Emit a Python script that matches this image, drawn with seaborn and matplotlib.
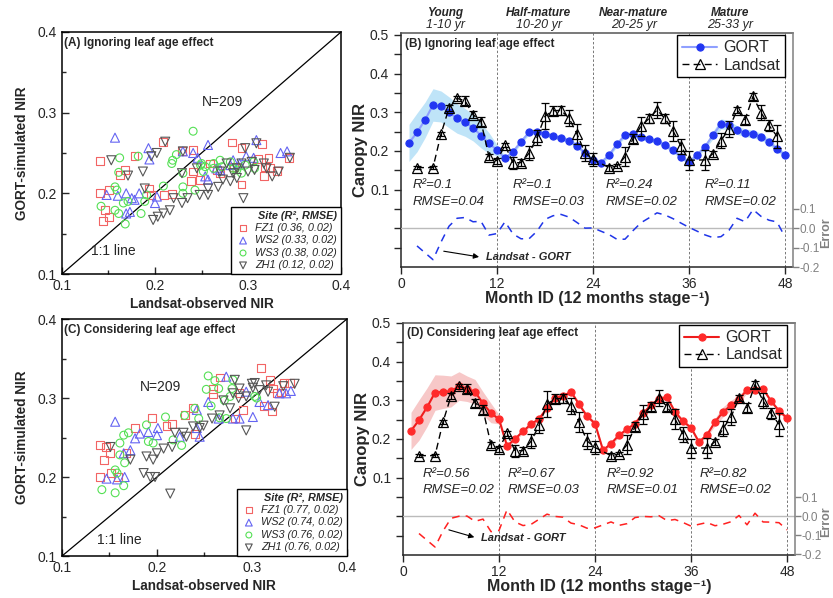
import matplotlib
matplotlib.use("Agg")
import pandas as pd
import matplotlib.pyplot as plt
import seaborn as sns

# --- scatter data: Landsat-observed NIR (obs) vs GORT-simulated NIR (sim) ---
# (A) ignoring leaf age effect
fz1_a_obs = [0.141, 0.141, 0.144, 0.146, 0.151, 0.151, 0.162, 0.168, 0.178, 0.194, 0.196, 0.209, 0.210, 0.218,
             0.229, 0.241, 0.241, 0.239, 0.248, 0.259, 0.267, 0.283, 0.293, 0.293, 0.311, 0.315, 0.318, 0.322,
             0.324, 0.331, 0.344, 0.317, 0.285, 0.270]
fz1_a_sim = [0.240, 0.200, 0.166, 0.179, 0.171, 0.204, 0.223, 0.229, 0.246, 0.206, 0.198, 0.264, 0.198, 0.199,
             0.252, 0.254, 0.227, 0.215, 0.217, 0.237, 0.229, 0.263, 0.256, 0.211, 0.243, 0.261, 0.233, 0.244,
             0.231, 0.228, 0.244, 0.221, 0.233, 0.225]
ws2_a_obs = [0.157, 0.148, 0.160, 0.169, 0.169, 0.173, 0.178, 0.183, 0.193, 0.194, 0.200, 0.202, 0.230, 0.241,
             0.246, 0.257, 0.254, 0.257, 0.270, 0.281, 0.291, 0.309, 0.306, 0.335, 0.342, 0.284, 0.266, 0.298,
             0.175]
ws2_a_sim = [0.269, 0.198, 0.197, 0.200, 0.175, 0.177, 0.192, 0.200, 0.256, 0.242, 0.188, 0.196, 0.252, 0.250,
             0.244, 0.260, 0.221, 0.217, 0.229, 0.235, 0.237, 0.266, 0.244, 0.250, 0.252, 0.241, 0.231, 0.246,
             0.194]
ws3_a_obs = [0.142, 0.157, 0.159, 0.162, 0.161, 0.157, 0.161, 0.166, 0.168, 0.171, 0.182, 0.185, 0.189, 0.191,
             0.209, 0.218, 0.223, 0.230, 0.230, 0.241, 0.243, 0.252, 0.254, 0.263, 0.270, 0.272, 0.281, 0.288,
             0.297, 0.306, 0.307, 0.263, 0.249, 0.230, 0.219, 0.284, 0.293, 0.250]
ws3_a_sim = [0.184, 0.208, 0.204, 0.244, 0.226, 0.179, 0.175, 0.188, 0.162, 0.190, 0.246, 0.175, 0.190, 0.198,
             0.209, 0.237, 0.248, 0.208, 0.200, 0.277, 0.204, 0.227, 0.233, 0.231, 0.241, 0.233, 0.239, 0.229,
             0.235, 0.239, 0.231, 0.237, 0.235, 0.225, 0.241, 0.231, 0.225, 0.237]
zh1_a_obs = [0.153, 0.171, 0.187, 0.189, 0.196, 0.202, 0.198, 0.203, 0.209, 0.216, 0.211, 0.220, 0.229, 0.229,
             0.230, 0.235, 0.245, 0.248, 0.257, 0.257, 0.268, 0.270, 0.273, 0.277, 0.281, 0.284, 0.288, 0.293,
             0.295, 0.297, 0.300, 0.304, 0.309, 0.317, 0.320, 0.326, 0.333, 0.345, 0.288, 0.307]
zh1_a_sim = [0.241, 0.222, 0.227, 0.206, 0.246, 0.250, 0.167, 0.171, 0.175, 0.179, 0.264, 0.194, 0.225, 0.188,
             0.252, 0.194, 0.231, 0.198, 0.198, 0.206, 0.208, 0.227, 0.217, 0.237, 0.215, 0.225, 0.219, 0.237,
             0.194, 0.256, 0.227, 0.239, 0.262, 0.237, 0.231, 0.221, 0.227, 0.244, 0.231, 0.229]

# (C) considering leaf age effect
fz1_c_obs = [0.140, 0.140, 0.144, 0.146, 0.151, 0.152, 0.159, 0.168, 0.177, 0.195, 0.210, 0.216, 0.238, 0.240,
             0.259, 0.259, 0.282, 0.287, 0.291, 0.310, 0.313, 0.321, 0.319, 0.322, 0.326, 0.331, 0.334, 0.340,
             0.266, 0.230]
fz1_c_sim = [0.240, 0.200, 0.222, 0.238, 0.230, 0.205, 0.200, 0.230, 0.262, 0.275, 0.265, 0.267, 0.287, 0.255,
             0.311, 0.305, 0.274, 0.306, 0.285, 0.338, 0.290, 0.283, 0.323, 0.312, 0.306, 0.307, 0.319, 0.319,
             0.326, 0.278]
ws2_c_obs = [0.156, 0.147, 0.158, 0.166, 0.165, 0.172, 0.177, 0.182, 0.191, 0.200, 0.201, 0.224, 0.242, 0.242,
             0.245, 0.254, 0.265, 0.273, 0.280, 0.287, 0.301, 0.308, 0.317, 0.329, 0.336, 0.341, 0.294]
ws2_c_sim = [0.270, 0.198, 0.197, 0.200, 0.230, 0.234, 0.249, 0.255, 0.257, 0.253, 0.262, 0.251, 0.262, 0.285,
             0.251, 0.295, 0.274, 0.327, 0.274, 0.274, 0.276, 0.295, 0.291, 0.306, 0.306, 0.309, 0.308]
ws3_c_obs = [0.142, 0.156, 0.156, 0.158, 0.161, 0.161, 0.165, 0.166, 0.165, 0.170, 0.189, 0.191, 0.196, 0.209,
             0.217, 0.226, 0.229, 0.240, 0.244, 0.252, 0.254, 0.257, 0.261, 0.266, 0.271, 0.273, 0.280, 0.277,
             0.303, 0.305, 0.265, 0.279]
ws3_c_sim = [0.184, 0.180, 0.209, 0.205, 0.243, 0.228, 0.189, 0.218, 0.253, 0.256, 0.266, 0.245, 0.243, 0.276,
             0.247, 0.240, 0.278, 0.287, 0.274, 0.311, 0.328, 0.290, 0.322, 0.275, 0.297, 0.274, 0.323, 0.302,
             0.302, 0.300, 0.312, 0.312]
zh1_c_obs = [0.151, 0.172, 0.186, 0.193, 0.198, 0.189, 0.196, 0.200, 0.207, 0.214, 0.216, 0.219, 0.228, 0.231,
             0.238, 0.245, 0.249, 0.258, 0.266, 0.270, 0.277, 0.280, 0.282, 0.287, 0.294, 0.294, 0.301, 0.303,
             0.308, 0.315, 0.317, 0.324, 0.333, 0.345, 0.300, 0.286]
zh1_c_sim = [0.238, 0.222, 0.205, 0.200, 0.200, 0.226, 0.222, 0.230, 0.236, 0.179, 0.238, 0.256, 0.256, 0.251,
             0.264, 0.262, 0.265, 0.274, 0.278, 0.297, 0.287, 0.306, 0.323, 0.312, 0.302, 0.259, 0.313, 0.319,
             0.310, 0.316, 0.308, 0.289, 0.315, 0.318, 0.318, 0.300]

site_names = ["FZ1", "WS2", "WS3", "ZH1"]
site_colors = ["#f26464", "#6464f2", "#55e055", "#555555"]
site_markers = ["s", "^", "o", "v"]
stats_a = ["(0.36, 0.02)", "(0.33, 0.02)", "(0.38, 0.02)", "(0.12, 0.02)"]
stats_c = ["(0.77, 0.02)", "(0.74, 0.02)", "(0.76, 0.02)", "(0.76, 0.02)"]
one_to_one = [0.1, 0.4]

# --- monthly series ---
months = list(range(1, 49))
gort_b = [0.221, 0.248, 0.280, 0.319, 0.315, 0.300, 0.284, 0.274, 0.260, 0.240, 0.220, 0.202,
          0.181, 0.198, 0.224, 0.248, 0.250, 0.244, 0.239, 0.233, 0.227, 0.214, 0.194, 0.176,
          0.170, 0.189, 0.218, 0.241, 0.244, 0.235, 0.230, 0.226, 0.215, 0.202, 0.185, 0.171,
          0.190, 0.211, 0.241, 0.270, 0.267, 0.254, 0.247, 0.244, 0.237, 0.224, 0.205, 0.190]
band_b = [0.048, 0.050, 0.046, 0.042, 0.040, 0.040, 0.038, 0.036, 0.034, 0.032, 0.027, 0.014,
          0.006, 0.006, 0.006, 0.006, 0.006, 0.006, 0.006, 0.006, 0.006, 0.006, 0.006, 0.006,
          0.006, 0.006, 0.006, 0.006, 0.006, 0.006, 0.006, 0.006, 0.006, 0.006, 0.006, 0.006,
          0.006, 0.006, 0.010, 0.013, 0.012, 0.011, 0.010, 0.010, 0.009, 0.008, 0.007, 0.006]
gort_d = [0.221, 0.249, 0.282, 0.320, 0.322, 0.323, 0.337, 0.330, 0.322, 0.292, 0.267, 0.251,
          0.182, 0.200, 0.220, 0.238, 0.252, 0.280, 0.306, 0.311, 0.322, 0.290, 0.259, 0.240,
          0.171, 0.188, 0.210, 0.225, 0.240, 0.266, 0.288, 0.304, 0.308, 0.270, 0.246, 0.229,
          0.192, 0.211, 0.244, 0.270, 0.287, 0.303, 0.327, 0.326, 0.330, 0.298, 0.273, 0.254]
band_d = [0.048, 0.052, 0.050, 0.046, 0.043, 0.040, 0.037, 0.033, 0.032, 0.030, 0.025, 0.012,
          0.005, 0.005, 0.005, 0.005, 0.005, 0.005, 0.005, 0.005, 0.005, 0.005, 0.005, 0.005,
          0.005, 0.005, 0.005, 0.005, 0.005, 0.005, 0.005, 0.005, 0.005, 0.005, 0.005, 0.005,
          0.005, 0.005, 0.010, 0.013, 0.013, 0.010, 0.008, 0.006, 0.005, 0.005, 0.005, 0.005]

ls_months = [2, 4, 5, 6, 7, 8, 9, 10, 11, 12, 13, 14, 15, 16, 17, 18, 19, 20, 21, 22, 23, 24,
             26, 27, 28, 29, 30, 31, 32, 33, 34, 35, 36,
             38, 39, 40, 41, 42, 43, 44, 45, 46, 47]
ls_nir = [0.157, 0.157, 0.244, 0.311, 0.336, 0.330, 0.294, 0.276, 0.185, 0.175, 0.215, 0.169, 0.170, 0.194,
          0.235, 0.290, 0.304, 0.305, 0.285, 0.244, 0.195, 0.178,
          0.157, 0.161, 0.185, 0.232, 0.264, 0.284, 0.306, 0.284, 0.252, 0.212, 0.176,
          0.177, 0.193, 0.227, 0.257, 0.306, 0.281, 0.341, 0.299, 0.266, 0.238]
ls_sd = [0.004, 0.004, 0.006, 0.008, 0.006, 0.012, 0.010, 0.012, 0.008, 0.008, 0.006, 0.015, 0.010, 0.018,
         0.020, 0.033, 0.012, 0.012, 0.020, 0.025, 0.020, 0.018,
         0.008, 0.006, 0.025, 0.012, 0.025, 0.012, 0.020, 0.012, 0.025, 0.020, 0.025,
         0.025, 0.008, 0.020, 0.020, 0.008, 0.012, 0.010, 0.020, 0.015, 0.030]

# Landsat - GORT (right axis)
err_months = ls_months + [48]
err_b = [-0.091, -0.162, -0.071, 0.011, 0.052, 0.056, 0.034, 0.036, -0.035, -0.027, 0.034, -0.029, -0.054,
         -0.054, -0.015, 0.046, 0.065, 0.072, 0.058, 0.030, 0.001, 0.002,
         -0.032, -0.057, -0.056, -0.012, 0.029, 0.054, 0.080, 0.069, 0.050, 0.027, 0.005,
         -0.034, -0.048, -0.043, -0.010, 0.052, 0.034, 0.097, 0.062, 0.042, 0.033, -0.045]
err_d = [-0.092, -0.163, -0.079, -0.012, -0.001, 0.000, -0.028, -0.016, -0.082, -0.076, 0.033, -0.031, -0.050,
         -0.044, -0.017, 0.010, -0.002, -0.006, -0.037, -0.046, -0.064, -0.062,
         -0.031, -0.049, -0.040, -0.008, -0.002, -0.004, 0.002, -0.024, -0.018, -0.034, -0.053,
         -0.034, -0.051, -0.043, -0.030, 0.003, -0.046, 0.015, -0.031, -0.032, -0.035, -0.073]

stage_edges = [12, 24, 36, 48]
stage_names = ["Young", "Half-mature", "Near-mature", "Mature"]
stage_years = ["1-10 yr", "10-20 yr", "20-25 yr", "25-33 yr"]
stage_centers = [5.5, 17.2, 29.1, 41.1]

r2_b = ["0.1", "0.1", "0.24", "0.11"]
rmse_b = ["0.04", "0.03", "0.02", "0.02"]
r2_d = ["0.56", "0.67", "0.92", "0.82"]
rmse_d = ["0.02", "0.03", "0.01", "0.02"]

sns.set_style("ticks")
plt.rcParams["font.family"] = ["Liberation Sans", "DejaVu Sans"]
plt.rcParams["axes.unicode_minus"] = False
plt.rcParams["axes.linewidth"] = 1.1

fig = plt.figure(figsize=(8.33, 5.98), dpi=100)
ax_a = fig.add_axes([0.0744, 0.5418, 0.335, 0.4047])
ax_b = fig.add_axes([0.4814, 0.5535, 0.4706, 0.3913])
ax_c = fig.add_axes([0.0744, 0.0702, 0.342, 0.3963])
ax_d = fig.add_axes([0.4838, 0.0719, 0.4706, 0.388])


def scatter_panel(ax, obs_lists, sim_lists, stats, title, n_pos, line_pos):
    for site, col, mk, st, xo, ys in zip(site_names, site_colors, site_markers, stats, obs_lists, sim_lists):
        df = pd.DataFrame({"obs": xo, "sim": ys})
        size = 32 if mk in ("s", "o") else 42
        sns.scatterplot(data=df, x="obs", y="sim", ax=ax, marker=mk, s=size, facecolor="none",
                        edgecolor=col, linewidth=0.8, label=f"{site} {st}", zorder=3)
    sns.lineplot(x=one_to_one, y=one_to_one, ax=ax, color="black", lw=0.9, legend=False, zorder=2)
    ax.set_xlim(0.1, 0.4)
    ax.set_ylim(0.1, 0.4)
    ax.set_xticks([0.1, 0.2, 0.3, 0.4])
    ax.set_yticks([0.1, 0.2, 0.3, 0.4])
    ax.set_xticks([0.15, 0.25, 0.35], minor=True)
    ax.set_yticks([0.15, 0.25, 0.35], minor=True)
    ax.tick_params(which="both", direction="in", labelsize=10, width=1)
    ax.tick_params(which="major", length=5)
    ax.tick_params(which="minor", length=3)
    ax.set_xlabel("Landsat-observed NIR", fontsize=9.8, fontweight="bold", labelpad=3)
    ax.set_ylabel("GORT-simulated NIR", fontsize=9.8, fontweight="bold", labelpad=6)
    ax.text(0.006, 0.955, title, transform=ax.transAxes, fontsize=8.5, fontweight="bold", va="center")
    ax.text(n_pos[0], n_pos[1], "N=209", fontsize=10, ha="center", va="center")
    ax.text(line_pos[0], line_pos[1], "1:1 line", fontsize=10, ha="center", va="center")
    leg = ax.legend(loc="lower right", borderaxespad=0, fancybox=False, framealpha=1,
                    edgecolor="black", title="Site (R², RMSE)",
                    title_fontproperties={"weight": "bold", "style": "italic", "size": 7.8},
                    prop={"style": "italic", "size": 7.8}, handletextpad=0.4, labelspacing=0.22,
                    borderpad=0.35, handlelength=1.5, markerscale=0.75, alignment="right")
    leg.get_frame().set_linewidth(1.0)
    for s in ax.spines.values():
        s.set_color("black")


def series_panel(ax, gort, band, err, dot_col, line_col, fill_col, err_col, title, r2s, rmses, txt_x,
                 err_ylim, ylim, lab_pos, arrow_from, arrow_to, err_lab_x):
    lo = [g - b for g, b in zip(gort, band)]
    hi = [g + b for g, b in zip(gort, band)]
    ax.fill_between(months, lo, hi, color=fill_col, lw=0, zorder=1)
    for edge in stage_edges:
        ax.axvline(edge, color="#777777", ls=(0, (2.5, 2)), lw=0.7, zorder=0)
    sns.lineplot(x=months, y=gort, ax=ax, color=line_col, lw=1.5, marker="o", ms=5.2,
                 mfc=dot_col, mec=dot_col, label="GORT", zorder=3)
    ax.errorbar(ls_months, ls_nir, yerr=ls_sd, fmt="none", ecolor="black", elinewidth=0.9,
                capsize=2.6, capthick=0.9, zorder=4)
    sns.lineplot(x=ls_months, y=ls_nir, ax=ax, color="black", lw=1.0, ls=(0, (5, 3)), marker="^",
                 ms=7, mfc="none", mec="black", mew=0.9, label="Landsat", zorder=5)
    ax.set_xlim(0, 49)
    ax.set_ylim(*ylim)
    ax.set_xticks([0, 12, 24, 36, 48])
    yt = [-0.05, 0.0, 0.05, 0.1, 0.15, 0.2, 0.25, 0.3, 0.35, 0.4, 0.45, 0.5]
    ax.set_yticks(yt)
    ax.set_yticklabels([f"{v:.1f}" if v >= 0.1 and abs(v * 10 - round(v * 10)) < 1e-6 else "" for v in yt])
    ax.tick_params(direction="out", labelsize=10, length=5, width=1)
    ax.tick_params(axis="x", pad=2)
    ax.set_xlabel("Month ID (12 months stage⁻¹)", fontsize=11.5, fontweight="bold", labelpad=0)
    ax.set_ylabel("Canopy NIR", fontsize=12, fontweight="bold", labelpad=1)
    ax.spines["right"].set_visible(False)
    ax.spines["top"].set_color("#555555")
    ax.text(0.01, 0.955, title, transform=ax.transAxes, fontsize=8.5, fontweight="bold", va="center")
    for x0, r2, rm in zip(txt_x, r2s, rmses):
        ax.text(x0, lab_pos[0], f"R²={r2}", fontsize=9.5, style="italic", va="center")
        ax.text(x0, lab_pos[1], f"RMSE={rm}", fontsize=9.5, style="italic", va="center")
    ax.annotate("", xy=arrow_to, xytext=arrow_from,
                arrowprops=dict(arrowstyle="-|>", color="black", lw=0.8, mutation_scale=8))
    ax.text(arrow_to[0] + 0.5, arrow_to[1], "Landsat - GORT", fontsize=8, fontweight="bold",
            style="italic", va="center")
    leg = ax.legend(loc="upper right", bbox_to_anchor=(0.98, 0.99), borderaxespad=0, fancybox=False,
                    framealpha=1, edgecolor="black", fontsize=11.5, handlelength=2.2,
                    handletextpad=0.4, labelspacing=0.15, borderpad=0.3)
    leg.get_frame().set_linewidth(1.0)
    leg.set_zorder(10)

    ax2 = ax.twinx()
    ax2.axhline(0, color="#bbbbbb", lw=1.0, zorder=1)
    sns.lineplot(x=err_months, y=err, ax=ax2, color=err_col, lw=1.1, ls=(0, (5, 4)), zorder=2)
    ax2.set_ylim(*err_ylim)
    ax2.set_yticks([-0.2, -0.1, 0.0, 0.1])
    ax2.set_yticklabels(["-0.2", "-0.1", "0.0", "0.1"])
    ax2.tick_params(direction="out", labelsize=8.5, length=4, width=1, colors="gray", pad=0.5)
    for side in ("left", "top", "bottom"):
        ax2.spines[side].set_visible(False)
    ax2.spines["right"].set_color("gray")
    ax2.set_ylabel("")
    ax.text(err_lab_x, 0.145, "Error", transform=ax.transAxes, rotation=90, fontsize=9,
            fontweight="bold", color="gray", ha="center", va="center")
    return ax2


scatter_panel(ax_a, [fz1_a_obs, ws2_a_obs, ws3_a_obs, zh1_a_obs], [fz1_a_sim, ws2_a_sim, ws3_a_sim, zh1_a_sim],
              stats_a, "(A) Ignoring leaf age effect", (0.273, 0.313), (0.155, 0.129))
scatter_panel(ax_c, [fz1_c_obs, ws2_c_obs, ws3_c_obs, zh1_c_obs], [fz1_c_sim, ws2_c_sim, ws3_c_sim, zh1_c_sim],
              stats_c, "(C) Considering leaf age effect", (0.204, 0.314), (0.160, 0.120))

series_panel(ax_b, gort_b, band_b, err_b, "#2236f2", "#8fa0ff", "#bfe4f8", "#1f35e8",
             "(B) Ignoring leaf age effect", r2_b, rmse_b, [1.4, 14.0, 25.6, 38.0],
             (-0.2, 1.01), (-0.1, 0.505), (0.112, 0.068), (5.0, -0.058), (10.1, -0.075), 1.085)
series_panel(ax_d, gort_d, band_d, err_d, "#ff2a2a", "#ee1c1c", "#f7c8c8", "#ff2020",
             "(D) Considering leaf age effect", r2_d, rmse_d, [2.4, 13.1, 25.4, 37.1],
             (-0.205, 1.016), (-0.1, 0.5), (0.110, 0.067), (5.4, -0.033), (9.25, -0.056), 1.080)

for name, yrs, xc in zip(stage_names, stage_years, stage_centers):
    ax_b.text(xc, 1.085, name, transform=ax_b.get_xaxis_transform(), ha="center", va="center",
              fontsize=8.5, fontweight="bold", style="italic")
    ax_b.text(xc, 1.034, yrs, transform=ax_b.get_xaxis_transform(), ha="center", va="center",
              fontsize=9, style="italic")

fig.savefig("out.png", dpi=100)
